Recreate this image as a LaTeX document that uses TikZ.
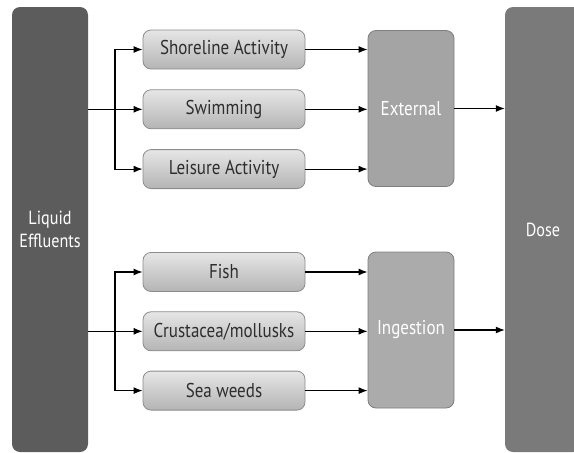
\documentclass[tikz,border=0pt]{standalone}
\usepackage{fontspec}
\setmainfont[FakeStretch=0.85]{PT Sans}
\usepackage{xcolor}
\usepackage{tikz}
\usetikzlibrary{arrows.meta, positioning, calc}
\definecolor{srcdark}{HTML}{5C5C5C}
\definecolor{dosegray}{HTML}{7A7A7A}
\definecolor{pathgray}{HTML}{A4A4A4}
\definecolor{pathedge}{HTML}{7E7E7E}
\definecolor{actlt}{HTML}{E6E6E6}
\definecolor{actdk}{HTML}{B4B4B4}
\definecolor{actedge}{HTML}{8C8C8C}
\definecolor{textdk}{HTML}{2E2E2E}
\tikzset{
  tall/.style={rectangle, rounded corners=8pt, draw=none, align=center, font=\fontsize{19}{23}\selectfont, text=white, minimum width=76pt, minimum height=445pt, inner sep=0pt},
  activity/.style={rectangle, rounded corners=8pt, draw=actedge, top color=actlt, bottom color=actdk, line width=0.8pt, align=center, font=\fontsize{20}{22}\selectfont, text=textdk, minimum width=162pt, minimum height=39pt, inner sep=0pt},
  pathway/.style={rectangle, rounded corners=8pt, draw=pathedge, fill=pathgray, line width=0.8pt, align=center, font=\fontsize{20}{22}\selectfont, text=white, minimum width=86pt, minimum height=156pt, inner sep=0pt},
  flow/.style={-{Latex[length=9pt,width=7pt]}, line width=1.2pt},
}
\begin{document}
\begin{tikzpicture}[x=1pt, y=-1pt]
  \useasboundingbox (0,0) rectangle (574,453);
  \node[tall, fill=srcdark] (liquid) at (50,229.5) {Liquid\\Effluents};
  \node[tall, fill=dosegray] (dose) at (543,229.5) {Dose};

  % external exposure
  \node[activity] (shore) at (224,49.5) {Shoreline Activity};
  \node[activity, below=20pt of shore] (swim) {Swimming};
  \node[activity, below=20pt of swim] (leisure) {Leisure Activity};
  \node[pathway] (ext) at (411,108.5) {External};

  % ingestion
  \node[activity] (fish) at (224,272) {Fish};
  \node[activity, below=19.5pt of fish] (crust) {Crustacea/mollusks};
  \node[activity, below=19.5pt of crust] (weeds) {Sea weeds};
  \node[pathway, fill=pathgray!92!white] (ing) at (411,330) {Ingestion};

  \coordinate (splitext) at (115,108.5);
  \coordinate (splitring) at (115,330);

  \draw[flow] (liquid.east |- swim) -- (swim);
  \draw[flow] (splitext) |- (shore);
  \draw[flow] (splitext) |- (leisure);
  \draw[flow] (liquid.east |- crust) -- (crust);
  \draw[flow] (splitring) |- (fish);
  \draw[flow] (splitring) |- (weeds);

  \foreach \src in {shore, swim, leisure}
    \draw[flow] (\src) -- (ext.west |- \src);
  \foreach \src in {fish, crust, weeds}
    \draw[flow] (\src) -- (ing.west |- \src);

  \draw[flow] (ext) -- (dose.west |- ext);
  \draw[flow] (ing) -- (dose.west |- ing);
\end{tikzpicture}
\end{document}
